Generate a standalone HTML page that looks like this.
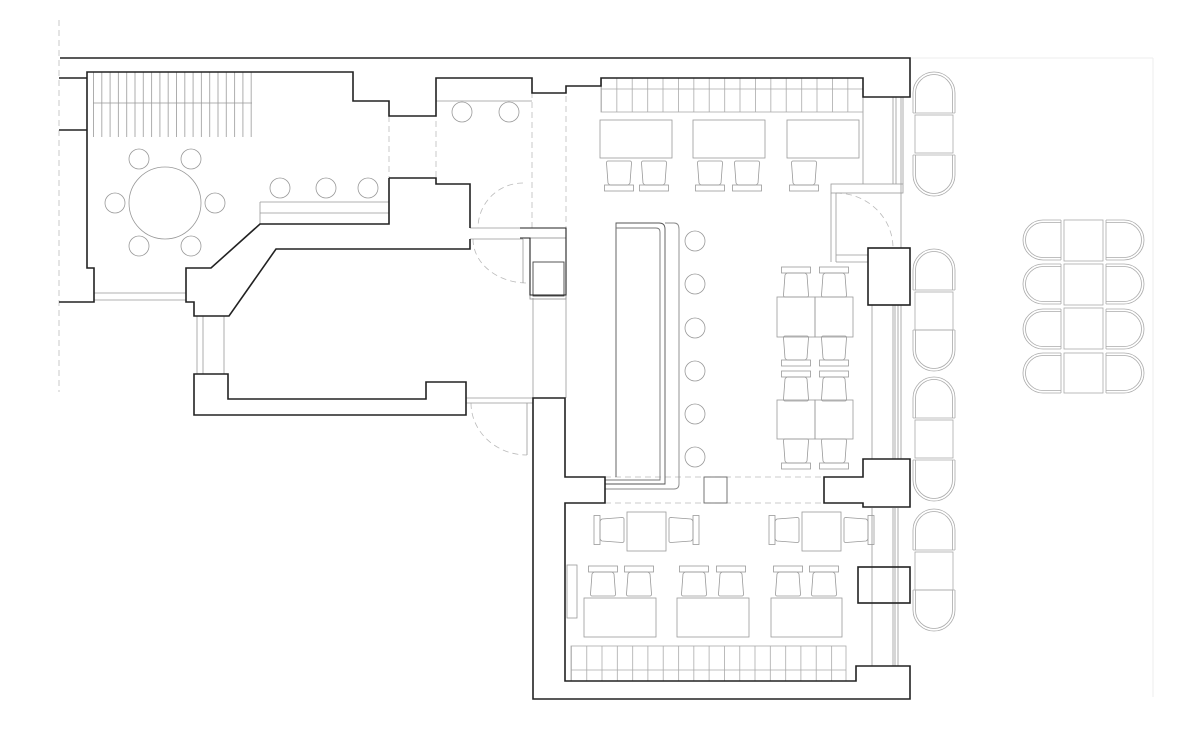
<!DOCTYPE html>
<html><head><meta charset="utf-8"><style>html,body{margin:0;padding:0;background:#fff}svg{display:block}</style></head>
<body>
<svg width="1194" height="729" viewBox="0 0 1194 729" xmlns="http://www.w3.org/2000/svg">
<defs>
<pattern id="stair" x="93" y="0" width="8.3" height="729" patternUnits="userSpaceOnUse"><line x1="0.5" y1="0" x2="0.5" y2="729" stroke="#999" stroke-width="0.8"/></pattern>
<pattern id="bench" x="601" y="0" width="15.4" height="729" patternUnits="userSpaceOnUse"><line x1="0.4" y1="0" x2="0.4" y2="729" stroke="#aaa" stroke-width="0.8"/></pattern>
<pattern id="bench2" x="571" y="0" width="15.3" height="729" patternUnits="userSpaceOnUse"><line x1="0.4" y1="0" x2="0.4" y2="729" stroke="#aaa" stroke-width="0.8"/></pattern>
<g id="ch" fill="none" stroke="#999" stroke-width="0.8">
<path d="M-11,-15 Q-12.5,-15 -12.5,-13 L-11,7 Q-10,9 -8,9 L8,9 Q10,9 11,7 L12.5,-13 Q12.5,-15 11,-15 Z"/>
<rect x="-14.5" y="9" width="29" height="6"/>
</g>
<g id="tc" fill="none" stroke="#aaa" stroke-width="0.8">
<path d="M-21,20 L-21,0 A21,21 0 0 1 21,0 L21,20"/>
<path d="M-18.5,20 L-18.5,0 A18.5,18.5 0 0 1 18.5,0 L18.5,20"/>
<line x1="-21" y1="20" x2="21" y2="20"/>
</g>
<g id="tc2" fill="none" stroke="#aaa" stroke-width="0.8">
<path d="M-20,18 L-20,0 A20,20 0 0 1 20,0 L20,18"/>
<path d="M-17.5,18 L-17.5,0 A17.5,17.5 0 0 1 17.5,0 L17.5,18"/>
<line x1="-20" y1="18" x2="20" y2="18"/>
</g>
</defs>

<g fill="none" stroke="#bbb" stroke-width="0.8" stroke-dasharray="6,4">
<line x1="59" y1="20" x2="59" y2="392"/>
<line x1="389" y1="116" x2="389" y2="178"/>
<line x1="436" y1="101" x2="436" y2="178"/>
<line x1="532" y1="92" x2="532" y2="228"/>
<line x1="566" y1="86" x2="566" y2="228"/>
<line x1="605" y1="477" x2="824" y2="477"/>
<line x1="605" y1="503" x2="824" y2="503"/>
<path d="M523,183 A45,45 0 0 0 478,228"/>
<path d="M473,239 A54,44 0 0 0 527,283"/>
<path d="M471,403 A56,52 0 0 0 527,455"/>
<path d="M836,193 A57,55 0 0 1 893,248"/>
</g>
<g fill="none" stroke="#eee" stroke-width="1">
<line x1="1153" y1="58" x2="1153" y2="697"/>
<line x1="910" y1="58" x2="1153" y2="58"/>
</g>

<g fill="none" stroke="#999" stroke-width="0.8">
<line x1="94" y1="293" x2="186" y2="293"/><line x1="94" y1="300" x2="186" y2="300"/>
<line x1="197" y1="316" x2="197" y2="374"/><line x1="203" y1="316" x2="203" y2="374"/><line x1="224" y1="316" x2="224" y2="374"/>
<line x1="436" y1="101" x2="532" y2="101"/>
<line x1="470" y1="228" x2="523" y2="228"/><line x1="470" y1="239" x2="523" y2="239"/>
<line x1="523" y1="239" x2="523" y2="283"/>
<line x1="466" y1="398" x2="533" y2="398"/><line x1="466" y1="403" x2="533" y2="403"/>
<line x1="527" y1="403" x2="527" y2="455"/>
<line x1="533" y1="298" x2="533" y2="398"/><line x1="566" y1="295" x2="566" y2="398"/>
<line x1="863" y1="97" x2="863" y2="184"/>
<line x1="893" y1="97" x2="893" y2="184"/><line x1="896" y1="97" x2="896" y2="184"/><line x1="903" y1="97" x2="903" y2="184"/>
<rect x="831" y="184" width="72" height="9"/>
<line x1="831" y1="193" x2="831" y2="262"/><line x1="836" y1="193" x2="836" y2="262"/>
<line x1="836" y1="255" x2="868" y2="255"/><line x1="836" y1="262" x2="868" y2="262"/>
<line x1="872" y1="305" x2="872" y2="459"/><line x1="893" y1="305" x2="893" y2="459"/><line x1="895" y1="305" x2="895" y2="459"/><line x1="898" y1="305" x2="898" y2="459"/>
<line x1="872" y1="508" x2="872" y2="666"/><line x1="893" y1="508" x2="893" y2="666"/><line x1="895" y1="508" x2="895" y2="666"/><line x1="898" y1="508" x2="898" y2="666"/>
<line x1="901" y1="97" x2="901" y2="248"/>
<line x1="901" y1="305" x2="901" y2="459"/>
</g>

<rect x="90" y="72" width="162" height="65" fill="url(#stair)"/>
<line x1="93" y1="103" x2="252" y2="103" stroke="#999" stroke-width="0.8"/>

<g fill="none" stroke="#999" stroke-width="0.8">
<circle cx="165" cy="203" r="36"/>
<circle cx="139" cy="159" r="10"/><circle cx="191" cy="159" r="10"/>
<circle cx="115" cy="203" r="10"/><circle cx="215" cy="203" r="10"/>
<circle cx="139" cy="246" r="10"/><circle cx="191" cy="246" r="10"/>
<circle cx="280" cy="188" r="10"/><circle cx="326" cy="188" r="10"/><circle cx="368" cy="188" r="10"/>
<circle cx="462" cy="112" r="10"/><circle cx="509" cy="112" r="10"/>
<line x1="260" y1="202" x2="389" y2="202"/><line x1="260" y1="213" x2="389" y2="213"/>
<line x1="260" y1="202" x2="260" y2="224"/>
</g>

<rect x="601" y="78" width="262" height="34" fill="url(#bench)" stroke="#aaa" stroke-width="0.8"/>
<line x1="601" y1="89" x2="863" y2="89" stroke="#aaa" stroke-width="0.8"/>
<g fill="none" stroke="#999" stroke-width="0.8">
<rect x="600" y="120" width="72" height="38"/><rect x="693" y="120" width="72" height="38"/><rect x="787" y="120" width="72" height="38"/>
</g>
<use href="#ch" x="619" y="176"/><use href="#ch" x="654" y="176"/><use href="#ch" x="710" y="176"/><use href="#ch" x="747" y="176"/><use href="#ch" x="804" y="176"/>

<g fill="none" stroke="#555" stroke-width="0.9">
<rect x="530" y="238" width="36" height="61" stroke="#999"/>
<rect x="533" y="262" width="31" height="34" stroke="#444"/>
<path d="M616,477 L616,223 L659,223 Q665,223 665,229 L665,484 L605,484"/>
<path d="M616,228 L656,228 Q660,228 660,232 L660,480 L605,480" stroke="#777"/>
<path d="M665,223 L674,223 Q679,223 679,229 L679,484 Q679,489 674,489 L605,489" stroke="#888"/>
<rect x="704" y="477" width="23" height="26" stroke="#666"/>
</g>
<g fill="none" stroke="#999" stroke-width="0.8">
<circle cx="695" cy="241" r="10"/><circle cx="695" cy="284" r="10"/><circle cx="695" cy="328" r="10"/>
<circle cx="695" cy="371" r="10"/><circle cx="695" cy="414" r="10"/><circle cx="695" cy="457" r="10"/>
<rect x="777" y="297" width="38" height="40"/><rect x="815" y="297" width="38" height="40"/>
<rect x="777" y="400" width="38" height="39"/><rect x="815" y="400" width="38" height="39"/>
</g>
<use href="#ch" transform="translate(796,282) rotate(180)"/><use href="#ch" transform="translate(834,282) rotate(180)"/>
<use href="#ch" x="796" y="351"/><use href="#ch" x="834" y="351"/>
<use href="#ch" transform="translate(796,386) rotate(180)"/><use href="#ch" transform="translate(834,386) rotate(180)"/>
<use href="#ch" x="796" y="454"/><use href="#ch" x="834" y="454"/>

<g fill="none" stroke="#999" stroke-width="0.8">
<rect x="627" y="512" width="39" height="39"/><rect x="802" y="512" width="39" height="39"/>
<rect x="584" y="598" width="72" height="39"/><rect x="677" y="598" width="72" height="39"/><rect x="771" y="598" width="71" height="39"/>
<rect x="567" y="565" width="10" height="53"/>
</g>
<use href="#ch" transform="translate(609,530) rotate(90)"/><use href="#ch" transform="translate(684,530) rotate(-90)"/>
<use href="#ch" transform="translate(784,530) rotate(90)"/><use href="#ch" transform="translate(859,530) rotate(-90)"/>
<use href="#ch" transform="translate(603,581) rotate(180)"/><use href="#ch" transform="translate(639,581) rotate(180)"/>
<use href="#ch" transform="translate(694,581) rotate(180)"/><use href="#ch" transform="translate(731,581) rotate(180)"/>
<use href="#ch" transform="translate(788,581) rotate(180)"/><use href="#ch" transform="translate(824,581) rotate(180)"/>
<rect x="571" y="646" width="275" height="35" fill="url(#bench2)" stroke="#aaa" stroke-width="0.8"/>
<line x1="571" y1="670" x2="846" y2="670" stroke="#aaa" stroke-width="0.8"/>

<g fill="none" stroke="#222" stroke-width="1.6" stroke-linejoin="miter">
<path d="M60,58 L910,58 L910,97 L863,97 L863,78 L601,78 L601,86 L566,86 L566,93 L532,93 L532,78 L436,78 L436,116 L389,116 L389,101 L353,101 L353,72 L87,72 L87,268 L94,268 L94,302 L59,302"/>
<line x1="59" y1="78" x2="87" y2="78"/><line x1="59" y1="130" x2="87" y2="130"/>
<path d="M389,178 L436,178 L436,184 L470,184 L470,228"/>
<path d="M470,239 L470,249 L276,249 L229,316 L194,316 L194,302 L186,302 L186,268 L211,268 L260,224 L389,224 L389,178"/>
<path d="M194,374 L228,374 L228,399 L426,399 L426,382 L466,382 L466,415 L194,415 Z"/>
<path d="M520,228 L566,228 L566,295 L530,295 L530,238 L520,238" stroke-width="1.1"/>
<path d="M533,398 L565,398 L565,477 L605,477 L605,503 L565,503 L565,681 L856,681 L856,666 L910,666 L910,699 L533,699 Z"/>
<rect x="868" y="248" width="42" height="57"/>
<path d="M824,477 L863,477 L863,459 L910,459 L910,507 L863,507 L863,503 L824,503 Z"/>
<rect x="858" y="567" width="52" height="36"/>
</g>

<g>
<use href="#tc" x="934" y="93"/><use href="#tc" transform="translate(934,175) scale(1,-1)"/>
<use href="#tc" x="934" y="270"/><use href="#tc" transform="translate(934,350) scale(1,-1)"/>
<use href="#tc" x="934" y="398"/><use href="#tc" transform="translate(934,480) scale(1,-1)"/>
<use href="#tc" x="934" y="530"/><use href="#tc" transform="translate(934,610) scale(1,-1)"/>
</g>
<g fill="none" stroke="#aaa" stroke-width="0.8">
<rect x="915" y="115" width="38" height="38"/>
<rect x="915" y="292" width="38" height="38"/>
<rect x="915" y="420" width="38" height="38"/>
<rect x="915" y="552" width="38" height="38"/>
<rect x="1064" y="220" width="39" height="41"/>
<rect x="1064" y="264" width="39" height="41"/>
<rect x="1064" y="308" width="39" height="41"/>
<rect x="1064" y="353" width="39" height="40"/>
</g>
<g>
<use href="#tc2" transform="translate(1043,240) rotate(-90)"/><use href="#tc2" transform="translate(1124,240) rotate(90)"/>
<use href="#tc2" transform="translate(1043,284) rotate(-90)"/><use href="#tc2" transform="translate(1124,284) rotate(90)"/>
<use href="#tc2" transform="translate(1043,329) rotate(-90)"/><use href="#tc2" transform="translate(1124,329) rotate(90)"/>
<use href="#tc2" transform="translate(1043,373) rotate(-90)"/><use href="#tc2" transform="translate(1124,373) rotate(90)"/>
</g>
</svg>
</body></html>
